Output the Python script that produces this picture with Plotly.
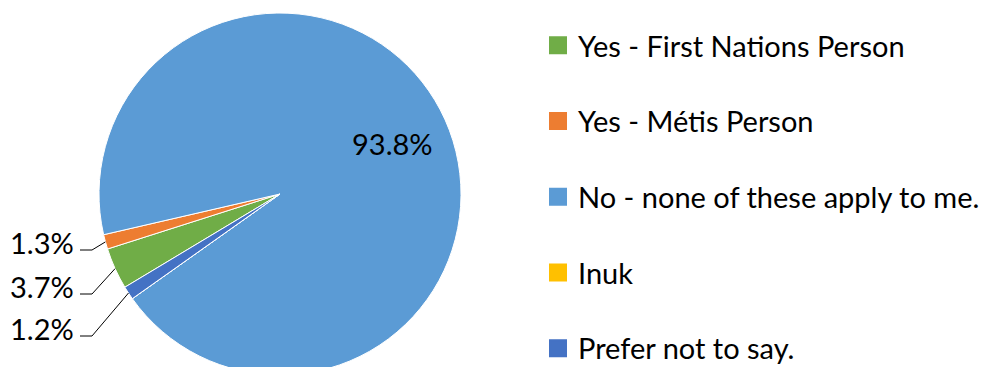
import math
import plotly.graph_objects as go

# Survey responses (percent of respondents)
categories = [
    "Yes - First Nations Person",
    "Yes - Métis Person",
    "No - none of these apply to me.",
    "Inuk",
    "Prefer not to say.",
]
shares = [3.7, 1.3, 93.8, 0.0, 1.2]
colors = ["#70AD47", "#ED7D31", "#5B9BD5", "#FFC000", "#4472C4"]

# Small slices labelled outside, left of the pie, top to bottom
outside_order = [1, 0, 4]
outside_label_y = [242, 286, 328]

W, H = 992, 388
CX, CY, R = 280, 194, 181
ROTATION = 239
FONT = "Lato"
FSIZE = 29
TXT = "#000000"

fig = go.Figure()
fig.add_trace(go.Pie(
    labels=categories, values=shares, sort=False,
    direction="clockwise", rotation=ROTATION,
    marker=dict(colors=colors, line=dict(color="white", width=1)),
    textinfo="none", hoverinfo="label+percent", showlegend=False,
    domain=dict(x=[(CX - R) / W, (CX + R) / W], y=[0, 1]),
))

# Legend entries, one group each so the rows can be spaced apart
for i, (name, c) in enumerate(zip(categories, colors)):
    fig.add_trace(go.Scatter(
        x=[None], y=[None], mode="markers", name=name,
        marker=dict(symbol="square", size=16, color=c, line=dict(color=c, width=2)),
        legendgroup=f"g{i}", hoverinfo="skip",
    ))

# Slice geometry from the data
total = sum(shares)
starts, a = [], ROTATION
for v in shares:
    starts.append(a)
    a += v / total * 360
mids = [s + v / total * 180 for s, v in zip(starts, shares)]


def point(theta, r):
    t = math.radians(theta)
    return CX + r * math.sin(t), CY - r * math.cos(t)


annotations, shapes = [], []
big = max(range(len(shares)), key=lambda k: shares[k])
bx, by = point(mids[big], 0.68 * R)
annotations.append(dict(x=bx, y=by, xref="x", yref="y", text=f"{shares[big]:.1f}%",
                        showarrow=False, font=dict(family=FONT, size=FSIZE, color=TXT)))

for k, ly in zip(outside_order, outside_label_y):
    annotations.append(dict(x=76, y=ly, xref="x", yref="y", xanchor="right",
                            text=f"{shares[k]:.1f}%", showarrow=False,
                            font=dict(family=FONT, size=FSIZE, color=TXT)))
    ex, ey = point(mids[k], R)
    shapes.append(dict(type="path", xref="x", yref="y",
                       path=f"M 80 {ly + 8} L 92 {ly + 8} L {ex:.1f} {ey:.1f}",
                       line=dict(color="#000000", width=1)))

fig.update_layout(
    width=W, height=H,
    margin=dict(l=0, r=0, t=0, b=0),
    paper_bgcolor="white", plot_bgcolor="rgba(0,0,0,0)",
    xaxis=dict(range=[0, W], visible=False, domain=[0, 1], fixedrange=True),
    yaxis=dict(range=[H, 0], visible=False, domain=[0, 1], fixedrange=True),
    annotations=annotations, shapes=shapes,
    showlegend=True,
    legend=dict(x=538 / W, xanchor="left", y=1 - 20 / H, yanchor="top",
                font=dict(family=FONT, size=FSIZE, color=TXT),
                tracegroupgap=35, itemclick=False, itemdoubleclick=False,
                bgcolor="rgba(0,0,0,0)"),
    font=dict(family=FONT),
)

fig.write_html("out.html", post_script="document.body.style.overflow='hidden';")
